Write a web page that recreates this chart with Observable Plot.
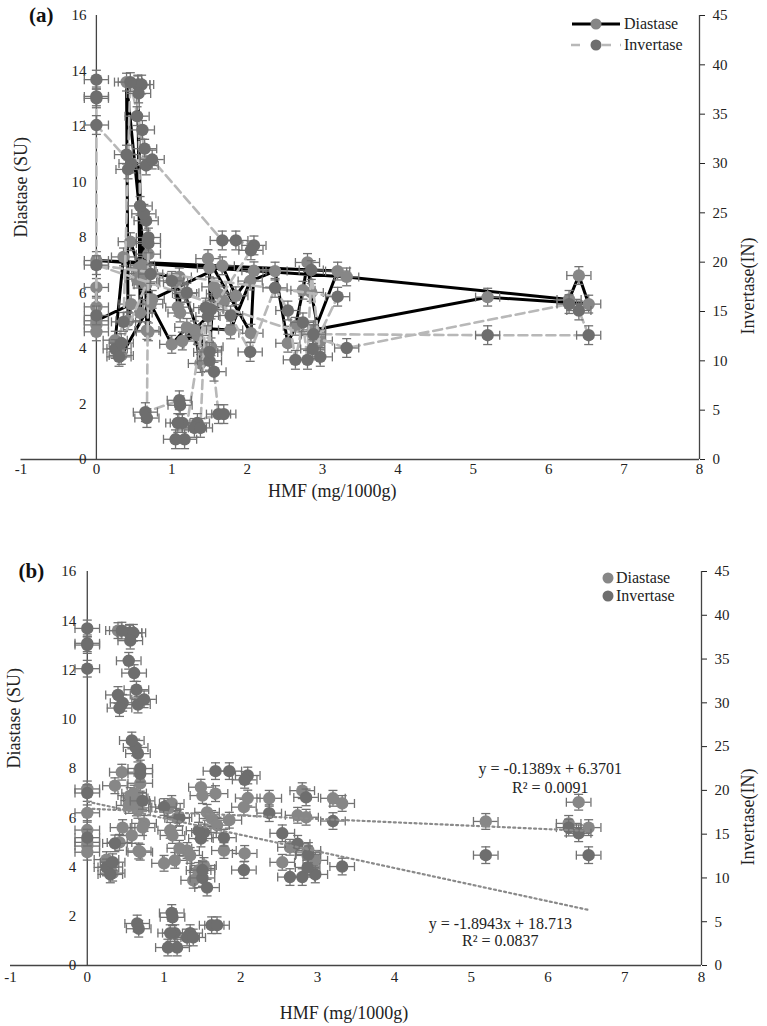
<!DOCTYPE html>
<html><head><meta charset="utf-8">
<script src="https://cdn.jsdelivr.net/npm/d3@7"></script>
<script src="https://cdn.jsdelivr.net/npm/@observablehq/plot@0.6"></script>
<style>
body{margin:0;background:#fff;font-family:"Liberation Serif","Times New Roman",serif;}
#wrap{position:relative;width:767px;height:1026px;overflow:hidden;}
#wrap svg{display:block;}
.overlay{position:absolute;left:0;top:0;pointer-events:none;}
</style></head><body><div id="wrap"></div>
<script>
// ---- data ----
const hmf = [0.00,0.00,0.00,0.00,0.00,0.46,0.42,0.40,0.66,0.74,1.67,1.85,2.09,2.05,1.48,1.50,1.52,1.50,1.56,1.62,1.69,1.14,1.34,1.30,1.38,1.45,1.17,1.05,1.08,1.11,1.10,0.65,0.67,0.69,0.69,0.66,0.63,0.58,0.55,0.60,0.56,0.54,0.61,0.64,0.45,0.36,0.25,0.30,0.33,0.72,1.00,1.20,1.78,2.04,2.37,2.54,2.64,2.74,2.80,2.85,2.97,2.87,3.20,0.00,3.32,6.27,6.40,6.53,5.19,2.88];
const diastase = [4.85,4.60,6.20,5.50,5.00,5.60,5.00,13.6,6.60,5.77,6.98,5.90,6.80,4.55,7.24,6.90,4.06,3.94,6.22,5.97,5.70,4.27,4.47,4.67,3.46,3.86,5.98,6.38,5.49,5.28,6.58,6.70,4.65,4.60,7.40,6.30,6.80,5.28,13.5,6.70,6.90,6.50,7.00,6.40,7.85,7.30,4.30,4.00,3.75,5.60,4.15,4.76,4.67,6.43,6.79,4.19,4.80,6.10,7.10,6.02,4.27,4.47,6.79,7.17,6.58,5.77,6.63,5.60,5.85,4.67];
const invertase = [14.6,38.5,36.8,36.6,33.9,30.0,29.4,30.9,29.8,30.4,22.2,22.2,21.7,21.2,14.5,10.0,15.2,10.9,8.9,4.6,4.6,3.7,3.7,3.2,3.2,15.4,2.05,2.05,3.7,5.5,6.0,4.8,4.2,21.9,22.5,24.2,24.9,25.7,38.0,38.0,37.1,34.8,33.4,31.5,38.25,13.95,11.2,10.4,11.8,18.8,18.1,16.9,14.6,10.9,17.4,15.1,10.1,13.9,10.1,19.2,10.4,11.2,16.5,19.7,11.3,15.75,15.1,12.6,12.6,12.7];
const hmfErr = 0.16, diastaseErr = 0.32, invertaseErr = 0.95;
const xTicks = [-1,0,1,2,3,4,5,6,7,8];
const diastaseTicks = [0,2,4,6,8,10,12,14,16];
const invertaseTicks = [0,5,10,15,20,25,30,35,40,45];
const seriesNames = ["Diastase","Invertase"];
const trendSlope = [-0.1389, -1.8943];
const trendIntercept = [6.3701, 18.713];
const trendEq = ["y = -0.1389x + 6.3701", "y = -1.8943x + 18.713"];
const trendR2 = ["R² = 0.0091", "R² = 0.0837"];

// ---- build ----
const k = 16/45; // invertase (right axis) -> diastase (left axis) units
const rows = hmf.map((x,i)=>({x, d: diastase[i], inv: invertase[i], iy: invertase[i]*k}));
const colD = "#878787", colI = "#6e6e6e", colErr = "#727272", axisCol = "#444";
const FONT = "'Liberation Serif','Times New Roman',serif";

const vCap = {draw(ctx,size){const r=Math.sqrt(size/Math.PI);ctx.moveTo(0,-r);ctx.lineTo(0,r);}};
const hCap = {draw(ctx,size){const r=Math.sqrt(size/Math.PI);ctx.moveTo(-r,0);ctx.lineTo(r,0);}};

function seriesMarks(key, err, fill){
  return [
    Plot.ruleY(rows, {y:key, x1:d=>d.x-hmfErr, x2:d=>d.x+hmfErr, stroke:colErr, strokeWidth:1.3}),
    Plot.ruleX(rows, {x:"x", y1:d=>d[key]-err, y2:d=>d[key]+err, stroke:colErr, strokeWidth:1.3}),
    Plot.dot(rows, {x:d=>d.x-hmfErr, y:key, symbol:vCap, r:4.5, fill:"none", stroke:colErr, strokeWidth:1.3}),
    Plot.dot(rows, {x:d=>d.x+hmfErr, y:key, symbol:vCap, r:4.5, fill:"none", stroke:colErr, strokeWidth:1.3}),
    Plot.dot(rows, {x:"x", y:d=>d[key]-err, symbol:hCap, r:4.5, fill:"none", stroke:colErr, strokeWidth:1.3}),
    Plot.dot(rows, {x:"x", y:d=>d[key]+err, symbol:hCap, r:4.5, fill:"none", stroke:colErr, strokeWidth:1.3}),
    Plot.dot(rows, {x:"x", y:key, r:6.2, fill, stroke:null})
  ];
}

function panel(p){
  const marks = [
    Plot.ruleY([0], {stroke:axisCol, strokeWidth:1.3}),
    Plot.ruleX([0], {y1:0, y2:16, stroke:axisCol, strokeWidth:1.3}),
    Plot.ruleX([8], {y1:0, y2:16, stroke:axisCol, strokeWidth:1.3}),
    Plot.axisX({ticks:xTicks, tickSize:0, tickPadding:p.xPad, tickFormat:d=>String(d), label:null, fontSize:15}),
    Plot.axisY({anchor:"right", ticks:invertaseTicks.map(v=>v*k), tickFormat:v=>String(Math.round(v/k)), tickSize:5, tickPadding:8, label:null, fontSize:15}),
    Plot.text(diastaseTicks, {x:0, y:d=>d, text:d=>String(d), textAnchor:"end", dx:p.yDx, fontSize:15, fill:"#222"}),
    Plot.text(["Diastase (SU)"], {frameAnchor:"left", dx:p.lblL, rotate:-90, fontSize:18, fill:"#222"}),
    Plot.text(["Invertase(IN)"], {frameAnchor:"right", dx:p.lblR, rotate:-90, fontSize:18, fill:"#222"}),
    Plot.text(["HMF (mg/1000g)"], {frameAnchor:"bottom", dx:p.lblXdx, dy:p.lblXdy, fontSize:18, fill:"#222", lineAnchor:"middle"}),
    Plot.text([p.tag], {frameAnchor:"top-left", dx:p.tagDx, lineAnchor:"middle", textAnchor:"start", fontSize:21, fontWeight:"bold", fill:"#111"})
  ];
  if (p.lines) {
    marks.push(Plot.line(rows, {x:"x", y:"d", stroke:"#000", strokeWidth:3}));
    marks.push(...seriesMarks("d", diastaseErr, colD));
    marks.push(Plot.line(rows, {x:"x", y:"iy", stroke:"#b8b8b8", strokeWidth:2.6, strokeDasharray:"9,5"}));
    marks.push(...seriesMarks("iy", invertaseErr*k, colI));
  } else {
    marks.push(...seriesMarks("d", diastaseErr, colD));
    marks.push(...seriesMarks("iy", invertaseErr*k, colI));
    const xEnd = d3.max(hmf);
    const ends = [0, xEnd];
    marks.push(Plot.line(ends, {x:d=>d, y:d=>trendSlope[0]*d+trendIntercept[0], stroke:"#8a8a8a", strokeWidth:2.2, strokeDasharray:"2,3.2"}));
    marks.push(Plot.line(ends, {x:d=>d, y:d=>(trendSlope[1]*d+trendIntercept[1])*k, stroke:"#8a8a8a", strokeWidth:2.2, strokeDasharray:"2,3.2"}));
    marks.push(Plot.text([trendEq[0]], {x:6.03, y:7.97, fontSize:16, fill:"#222"}));
    marks.push(Plot.text([trendR2[0]], {x:6.03, y:7.20, fontSize:16, fill:"#222"}));
    marks.push(Plot.text([trendEq[1]], {x:5.38, y:1.71, fontSize:16, fill:"#222"}));
    marks.push(Plot.text([trendR2[1]], {x:5.38, y:0.99, fontSize:16, fill:"#222"}));
  }
  return Plot.plot({
    width:767, height:p.height,
    marginTop:p.mt, marginBottom:p.mb, marginLeft:p.ml, marginRight:p.mr,
    x:{domain:[-1,8]}, y:{domain:[0,16]},
    style:{fontFamily:FONT, fontSize:"15px", color:"#222", background:"#fff"},
    marks
  });
}

const wrap = document.getElementById("wrap");
const a = panel({height:505, mt:15, mb:46, ml:20.5, mr:68, lines:true, tag:"(a)", tagDx:8,
  xPad:4, yDx:-10, lblL:0, lblR:49, lblXdx:-28, lblXdy:32});
const b = panel({height:521, mt:66, mb:61, ml:10, mr:66, lines:false, tag:"(b)", tagDx:8,
  xPad:6, yDx:-11, lblL:4, lblR:47, lblXdx:-12, lblXdy:48});
wrap.appendChild(a); wrap.appendChild(b);

// legends (overlay)
const ov = d3.select(wrap).append("svg").attr("class","overlay").attr("width",767).attr("height",1026)
  .style("font-family",FONT).style("font-size","16px");
// (a)
ov.append("line").attr("x1",572).attr("x2",620).attr("y1",24).attr("y2",24).attr("stroke","#000").attr("stroke-width",3);
ov.append("circle").attr("cx",596).attr("cy",24).attr("r",5.5).attr("fill",colD);
ov.append("text").attr("x",624).attr("y",29).attr("fill","#222").text(seriesNames[0]);
ov.append("line").attr("x1",571).attr("x2",621).attr("y1",45).attr("y2",45).attr("stroke","#b8b8b8").attr("stroke-width",2.6).attr("stroke-dasharray","9,22,9");
ov.append("circle").attr("cx",596).attr("cy",45).attr("r",5.5).attr("fill",colI);
ov.append("text").attr("x",624).attr("y",50).attr("fill","#222").text(seriesNames[1]);
// (b)
ov.append("circle").attr("cx",608).attr("cy",578).attr("r",5.5).attr("fill",colD);
ov.append("text").attr("x",616).attr("y",583).attr("fill","#222").text(seriesNames[0]);
ov.append("circle").attr("cx",608).attr("cy",596).attr("r",5.5).attr("fill",colI);
ov.append("text").attr("x",616).attr("y",601).attr("fill","#222").text(seriesNames[1]);
</script></body></html>
